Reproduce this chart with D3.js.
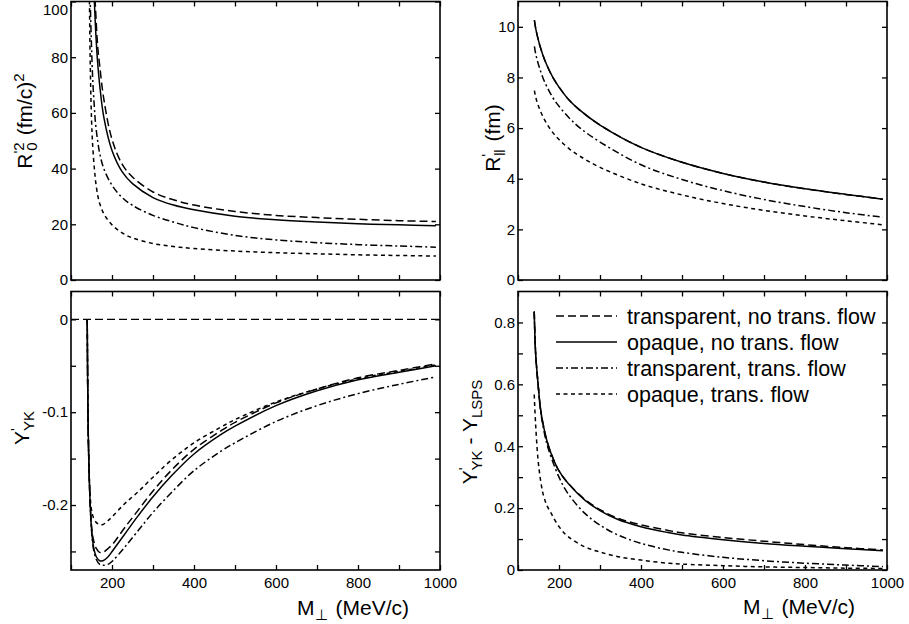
<!DOCTYPE html>
<html><head><meta charset="utf-8">
<script src="https://cdn.jsdelivr.net/npm/d3@7"></script>
<style>
body{margin:0;background:#fff}
svg text{font-family:"Liberation Sans",Arial,Helvetica,sans-serif;fill:#000}
</style>
</head><body>
<svg id="chart" width="909" height="624"></svg>
<script>
// ---------------- DATA ----------------
const seriesNames = ["transparent, no trans. flow","opaque, no trans. flow","transparent, trans. flow","opaque, trans. flow"];

// Panel 1: R'_0^2 (fm/c)^2
const M_R0 = [143,145,147,150,153,157,160,165,170,180,200,225,250,300,350,400,500,600,700,800,900,990];
const R0_transNoFlow = [200,180,160,135,120,106,97,84,77,65,50.5,41.5,37,31.6,28.8,26.9,24.6,23.2,22.4,21.8,21.3,21.0];
const R0_opaqueNoFlow = [190,170,150,130,113,100,90,78,70,58.5,46.5,38.8,34.6,29.6,26.9,25.2,22.9,21.6,20.8,20.2,19.8,19.5];
const R0_transFlow = [140,118,100,84,72,62,56,50,45.5,40,34,29.6,26.8,23.2,20.8,18.8,16.0,14.4,13.4,12.7,12.2,11.8];
const R0_opaqueFlow = [130,100,77,58,48,40,35.5,30.5,27.5,23.8,19.8,16.9,15.1,13.1,12.0,11.3,10.4,9.8,9.4,9.05,8.8,8.6];

// Panel 2: R'_par (fm)
const M_Rpar = [140,143,147,152,160,170,185,200,225,250,300,400,500,600,700,800,900,990];
const Rpar_opaqueNoFlow = [10.26,9.95,9.65,9.33,8.92,8.5,8.0,7.62,7.1,6.72,6.12,5.24,4.65,4.21,3.87,3.6,3.38,3.19];
const Rpar_transNoFlow = Rpar_opaqueNoFlow.slice(); // coincides with opaque curve
const Rpar_transFlow = [9.23,8.95,8.68,8.4,8.02,7.65,7.2,6.86,6.4,6.02,5.45,4.55,3.97,3.53,3.18,2.9,2.66,2.48];
const Rpar_opaqueFlow = [7.48,7.24,7.0,6.78,6.48,6.18,5.82,5.55,5.18,4.9,4.45,3.8,3.36,3.02,2.75,2.53,2.34,2.18];

// Panel 3: Y'_YK
const M_Y = [139.6,142,146,150,155,162,170,178,190,202,230,263,300,344,400,466,500,600,700,800,900,990];
const Y_transNoFlow = [0,-0.12,-0.19,-0.222,-0.238,-0.247,-0.251,-0.251,-0.247,-0.242,-0.225,-0.206,-0.185,-0.163,-0.140,-0.120,-0.111,-0.090,-0.075,-0.063,-0.055,-0.048];
const Y_opaqueNoFlow = [0,-0.12,-0.19,-0.225,-0.245,-0.256,-0.26,-0.26,-0.256,-0.249,-0.232,-0.212,-0.191,-0.169,-0.145,-0.124,-0.115,-0.093,-0.077,-0.065,-0.057,-0.050];
const Y_transFlow = [0,-0.12,-0.19,-0.227,-0.248,-0.259,-0.264,-0.265,-0.264,-0.260,-0.246,-0.228,-0.208,-0.187,-0.163,-0.142,-0.133,-0.110,-0.093,-0.080,-0.070,-0.062];
const Y_opaqueFlow = [0,-0.12,-0.185,-0.205,-0.214,-0.219,-0.221,-0.221,-0.217,-0.212,-0.199,-0.186,-0.170,-0.152,-0.133,-0.116,-0.108,-0.089,-0.075,-0.064,-0.056,-0.049];
const zeroLineM = [100,1000];
const zeroLineY = [0,0];

// Panel 4: Y'_YK - Y_LSPS
const M_D = [139.6,143,149,155,161,170,181,200,222,263,300,344,400,466,500,600,700,800,900,990];
const D_transNoFlow = [0.835,0.70,0.60,0.52,0.473,0.42,0.376,0.32,0.281,0.228,0.195,0.167,0.146,0.128,0.120,0.105,0.093,0.082,0.072,0.065];
const D_opaqueNoFlow = [0.835,0.70,0.60,0.52,0.473,0.42,0.376,0.32,0.28,0.226,0.192,0.163,0.140,0.121,0.113,0.098,0.086,0.077,0.069,0.062];
const D_transFlow = [0.835,0.70,0.60,0.515,0.465,0.41,0.364,0.30,0.247,0.183,0.145,0.113,0.086,0.065,0.057,0.041,0.030,0.022,0.016,0.011];
const D_opaqueFlow = [0.567,0.47,0.355,0.29,0.247,0.21,0.183,0.14,0.108,0.075,0.058,0.043,0.032,0.022,0.019,0.014,0.010,0.008,0.006,0.005];

// Tick values
const xTicks = [100,200,300,400,500,600,700,800,900,1000];
const xLabels = [200,400,600,800,1000];
const yTicksR0 = [0,20,40,60,80,100];
const yTicksRpar = [0,2,4,6,8,10];
const yTicksY = [0,-0.05,-0.1,-0.15,-0.2,-0.25];
const yLabelsY = [0,-0.1,-0.2];
const yTicksD = [0,0.1,0.2,0.3,0.4,0.5,0.6,0.7,0.8];
const yLabelsD = [0,0.2,0.4,0.6,0.8];

// ---------------- DRAWING ----------------
const svg = d3.select("#chart");
const dashes = ["8,4", null, "7,3,2,3", "4,3.5"];

function zip(xs, ys){ return xs.map((v,i)=>[v, ys[i]]); }

function drawPanel(id, box, ydom, yTicks, yLabels, showX, series, extra){
  const x = d3.scaleLinear().domain([100,1000]).range([box.x0, box.x1]);
  const y = d3.scaleLinear().domain(ydom).range([box.y1, box.y0]);
  const g = svg.append("g");
  g.append("clipPath").attr("id","clip"+id).append("rect")
    .attr("x",box.x0).attr("y",box.y0).attr("width",box.x1-box.x0).attr("height",box.y1-box.y0);
  const fmt = v => String(+v.toFixed(2));
  const isIn = (arr,v) => arr.some(a => Math.abs(a-v) < 1e-9);

  const ax = [
    g.append("g").attr("transform",`translate(0,${box.y1})`)
      .call(d3.axisBottom(x).tickValues(xTicks).tickSize(-5).tickPadding(7)
        .tickFormat(d => showX && isIn(xLabels,d) ? fmt(d) : "")),
    g.append("g").attr("transform",`translate(0,${box.y0})`)
      .call(d3.axisTop(x).tickValues(xTicks).tickSize(-5).tickFormat("")),
    g.append("g").attr("transform",`translate(${box.x0},0)`)
      .call(d3.axisLeft(y).tickValues(yTicks).tickSize(-5).tickPadding(3)
        .tickFormat(d => isIn(yLabels,d) ? fmt(d) : "")),
    g.append("g").attr("transform",`translate(${box.x1},0)`)
      .call(d3.axisRight(y).tickValues(yTicks).tickSize(-5).tickFormat(""))
  ];
  ax.forEach(a => {
    a.select(".domain").remove();
    a.attr("font-size",15).attr("font-family",null);
    a.selectAll("line").attr("stroke","#000").attr("stroke-width",1.3);
    a.selectAll("text").attr("fill","#000");
  });
  // keep the top-most label fully inside the picture
  ax[2].selectAll(".tick").filter(d => y(d) < 8).select("text").attr("dy","0.85em");

  const line = d3.line().x(d=>x(d[0])).y(d=>y(d[1])).curve(d3.curveCatmullRom.alpha(0.5));
  const lg = g.append("g").attr("clip-path",`url(#clip${id})`);
  if (extra) {
    lg.append("path").attr("d", line(zip(extra.m, extra.v)))
      .attr("fill","none").attr("stroke","#000").attr("stroke-width",1.1).attr("stroke-dasharray","8,4");
  }
  series.forEach((s,i) => {
    lg.append("path").attr("d", line(zip(s.m, s.v)))
      .attr("fill","none").attr("stroke","#000").attr("stroke-width",1.5)
      .attr("stroke-dasharray", dashes[s.k]);
  });
  g.append("rect").attr("x",box.x0).attr("y",box.y0)
    .attr("width",box.x1-box.x0).attr("height",box.y1-box.y0)
    .attr("fill","none").attr("stroke","#000").attr("stroke-width",1.6);
  return {x,y};
}

const boxTL = {x0:71, x1:440, y0:1.5, y1:280};
const boxTR = {x0:518, x1:887, y0:1.5, y1:280};
const boxBL = {x0:71, x1:440, y0:291.5, y1:570};
const boxBR = {x0:518, x1:887, y0:291.5, y1:570};

drawPanel("tl", boxTL, [0,100], yTicksR0, yTicksR0, false, [
  {m:M_R0, v:R0_transNoFlow, k:0},
  {m:M_R0, v:R0_opaqueNoFlow, k:1},
  {m:M_R0, v:R0_transFlow, k:2},
  {m:M_R0, v:R0_opaqueFlow, k:3}
]);
drawPanel("tr", boxTR, [0,11], yTicksRpar, yTicksRpar, false, [
  {m:M_Rpar, v:Rpar_transNoFlow, k:0},
  {m:M_Rpar, v:Rpar_opaqueNoFlow, k:1},
  {m:M_Rpar, v:Rpar_transFlow, k:2},
  {m:M_Rpar, v:Rpar_opaqueFlow, k:3}
]);
drawPanel("bl", boxBL, [-0.27,0.03], yTicksY, yLabelsY, true, [
  {m:M_Y, v:Y_transNoFlow, k:0},
  {m:M_Y, v:Y_opaqueNoFlow, k:1},
  {m:M_Y, v:Y_transFlow, k:2},
  {m:M_Y, v:Y_opaqueFlow, k:3}
], {m:zeroLineM, v:zeroLineY});
drawPanel("br", boxBR, [0,0.9], yTicksD, yLabelsD, true, [
  {m:M_D, v:D_transNoFlow, k:0},
  {m:M_D, v:D_opaqueNoFlow, k:1},
  {m:M_D, v:D_transFlow, k:2},
  {m:M_D, v:D_opaqueFlow, k:3}
]);

// ---- axis titles ----
function xTitle(x0, yb){
  const t = svg.append("text").attr("x",x0).attr("y",yb).attr("font-size",21);
  t.append("tspan").text("M");
  t.append("tspan").attr("font-size",15).attr("dy",5).text("\u22A5");
  t.append("tspan").attr("dy",-5).attr("dx",8).text("(MeV/c)");
}
xTitle(297, 615);
xTitle(743, 614);

function yTitle(cx, cy, build){
  const t = svg.append("text").attr("transform",`translate(${cx},${cy}) rotate(-90)`)
    .attr("text-anchor","middle").attr("font-size",21);
  build(t);
}
yTitle(32, 121, t => {
  t.append("tspan").text("R");
  t.append("tspan").attr("font-size",15).attr("dy",-8).text("'");
  t.append("tspan").attr("font-size",15).attr("dy",13).text("0");
  t.append("tspan").attr("font-size",15).attr("dx",-8.3).attr("dy",-13).text("2");
  t.append("tspan").attr("dy",8).attr("dx",7).text("(fm/c)");
  t.append("tspan").attr("font-size",15).attr("dy",-8).text("2");
});
yTitle(500, 138, t => {
  t.append("tspan").text("R");
  t.append("tspan").attr("font-size",15).attr("dy",-8).text("'");
  t.append("tspan").attr("font-size",14).attr("dy",13).attr("dx",-2).text("ll");
  t.append("tspan").attr("dy",-5).attr("dx",8).text("(fm)");
});
yTitle(29, 428, t => {
  t.append("tspan").text("Y");
  t.append("tspan").attr("font-size",15).attr("dy",-8).text("'");
  t.append("tspan").attr("font-size",15).attr("dy",13).attr("dx",-3).text("YK");
});
yTitle(477, 432, t => {
  t.append("tspan").text("Y");
  t.append("tspan").attr("font-size",15).attr("dy",-8).text("'");
  t.append("tspan").attr("font-size",15).attr("dy",13).attr("dx",-3).text("YK");
  t.append("tspan").attr("dy",-5).text(" - Y");
  t.append("tspan").attr("font-size",15).attr("dy",5).text("LSPS");
});

// ---- legend ----
const legendY = [316, 342, 368, 394];
const lg = svg.append("g");
seriesNames.forEach((name,i) => {
  lg.append("line").attr("x1",556).attr("x2",617).attr("y1",legendY[i]).attr("y2",legendY[i])
    .attr("stroke","#000").attr("stroke-width",1.5).attr("stroke-dasharray",dashes[i]);
  lg.append("text").attr("x",627).attr("y",legendY[i]+7.5).attr("font-size",21.5).text(name);
});
</script>
</body></html>
